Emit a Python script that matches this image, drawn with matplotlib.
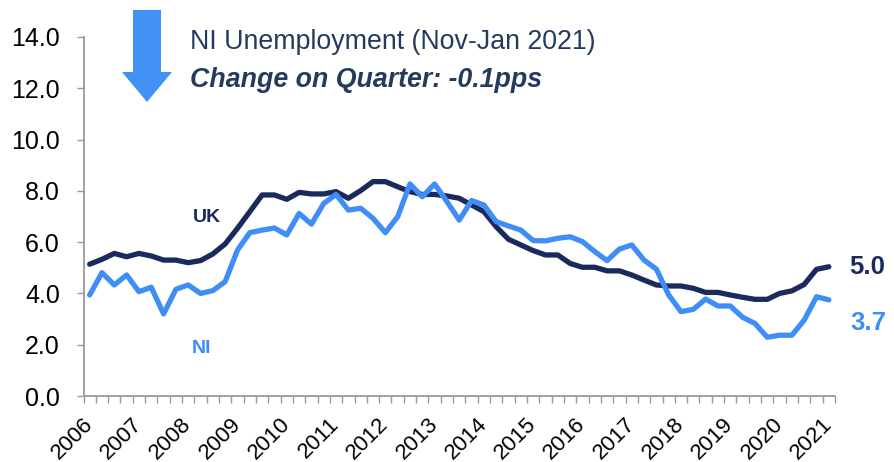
import numpy as np
import matplotlib
matplotlib.use("Agg")
import matplotlib.pyplot as plt
from matplotlib.patches import FancyArrow

plt.rcParams['font.family'] = ['Liberation Sans', 'DejaVu Sans']

# quarterly rolling rates, Nov-Jan 2006 .. Nov-Jan 2021
uk = [5.14, 5.33, 5.56, 5.43, 5.56, 5.46, 5.30, 5.30, 5.20, 5.28,
      5.54, 5.93, 6.54, 7.19, 7.84, 7.84, 7.67, 7.94, 7.88, 7.88,
      7.97, 7.71, 8.01, 8.36, 8.36, 8.16, 7.97, 7.86, 7.86, 7.80,
      7.71, 7.45, 7.19, 6.60, 6.11, 5.89, 5.67, 5.50, 5.50, 5.17,
      5.02, 5.02, 4.88, 4.88, 4.72, 4.52, 4.33, 4.29, 4.29, 4.20,
      4.04, 4.04, 3.94, 3.85, 3.77, 3.77, 4.00, 4.10, 4.35, 4.94,
      5.04]
ni = [3.94, 4.81, 4.33, 4.72, 4.07, 4.24, 3.20, 4.16, 4.33, 4.00,
      4.11, 4.46, 5.69, 6.37, 6.47, 6.55, 6.28, 7.12, 6.70, 7.51,
      7.86, 7.25, 7.32, 6.93, 6.37, 6.99, 8.27, 7.77, 8.27, 7.58,
      6.86, 7.62, 7.45, 6.80, 6.63, 6.47, 6.06, 6.05, 6.15, 6.21,
      6.02, 5.63, 5.28, 5.73, 5.89, 5.30, 4.95, 3.94, 3.29, 3.38,
      3.78, 3.51, 3.51, 3.07, 2.83, 2.29, 2.37, 2.37, 2.96, 3.87,
      3.75]
years = [str(y) for y in range(2006, 2022)]

uk_col = "#1b2a5c"
ni_col = "#3f8ef7"
txt_col = "#243b5e"
axis_col = "#9a9a9a"

fig = plt.figure(figsize=(8.94, 4.62), dpi=100)
ax = fig.add_axes([83.5 / 894, 1 - 396 / 462, (835 - 83.5) / 894, (396 - 37) / 462])

x = np.arange(len(uk))
ax.plot(x, uk, color=uk_col, lw=3.8, solid_capstyle="round", solid_joinstyle="round")
ax.plot(x, ni, color=ni_col, lw=3.8, solid_capstyle="round", solid_joinstyle="round")

ax.set_xlim(-0.5, len(uk) - 0.5)
ax.set_ylim(0, 14)

for s in ["top", "right"]:
    ax.spines[s].set_visible(False)
for s in ["left", "bottom"]:
    ax.spines[s].set_color(axis_col)
    ax.spines[s].set_linewidth(1.3)

ax.set_yticks(np.arange(0, 15, 2))
ax.set_yticklabels([f"{v:.1f}" for v in np.arange(0, 15, 2)])
ax.tick_params(axis="y", length=5, width=1, color=axis_col, pad=12, labelsize=18)

ax.set_xticks(np.arange(0, len(uk), 4))
ax.set_xticklabels(years)
ax.set_xticks(np.arange(-0.5, len(uk), 1), minor=True)
ax.tick_params(axis="x", which="major", length=0, pad=18, labelsize=16)
ax.tick_params(axis="x", which="minor", length=5, width=1, color=axis_col)
plt.setp(ax.get_xticklabels(), rotation=45, ha="right", va="center", rotation_mode="anchor")

# series labels
ax.text(9.5, 6.95, "UK", color=uk_col, fontsize=14, fontweight="bold", ha="center", va="center")
ax.text(9.1, 1.85, "NI", color=ni_col, fontsize=14, fontweight="bold", ha="center", va="center")
ax.text(63.1, uk[-1], f"{uk[-1]:.1f}", color=uk_col, fontsize=18.5, fontweight="bold",
        ha="center", va="center", clip_on=False)
ax.text(63.2, 2.85, "3.7", color=ni_col, fontsize=18.5, fontweight="bold",
        ha="center", va="center", clip_on=False)

# header
arrow = FancyArrow(1.47, 4.52, 0, -0.92, width=0.28, head_width=0.50, head_length=0.30,
                   length_includes_head=True, color="#4192f4", lw=0,
                   transform=fig.dpi_scale_trans)
fig.add_artist(arrow)
fig.text(190 / 894, 1 - 42 / 462, "NI Unemployment (Nov-Jan 2021)", color=txt_col,
         fontsize=19.3, ha="left", va="center")
fig.text(190 / 894, 1 - 80 / 462, "Change on Quarter: -0.1pps", color=txt_col,
         fontsize=19.3, fontweight="bold", fontstyle="italic", ha="left", va="center")

fig.savefig("out.png", dpi=100)
